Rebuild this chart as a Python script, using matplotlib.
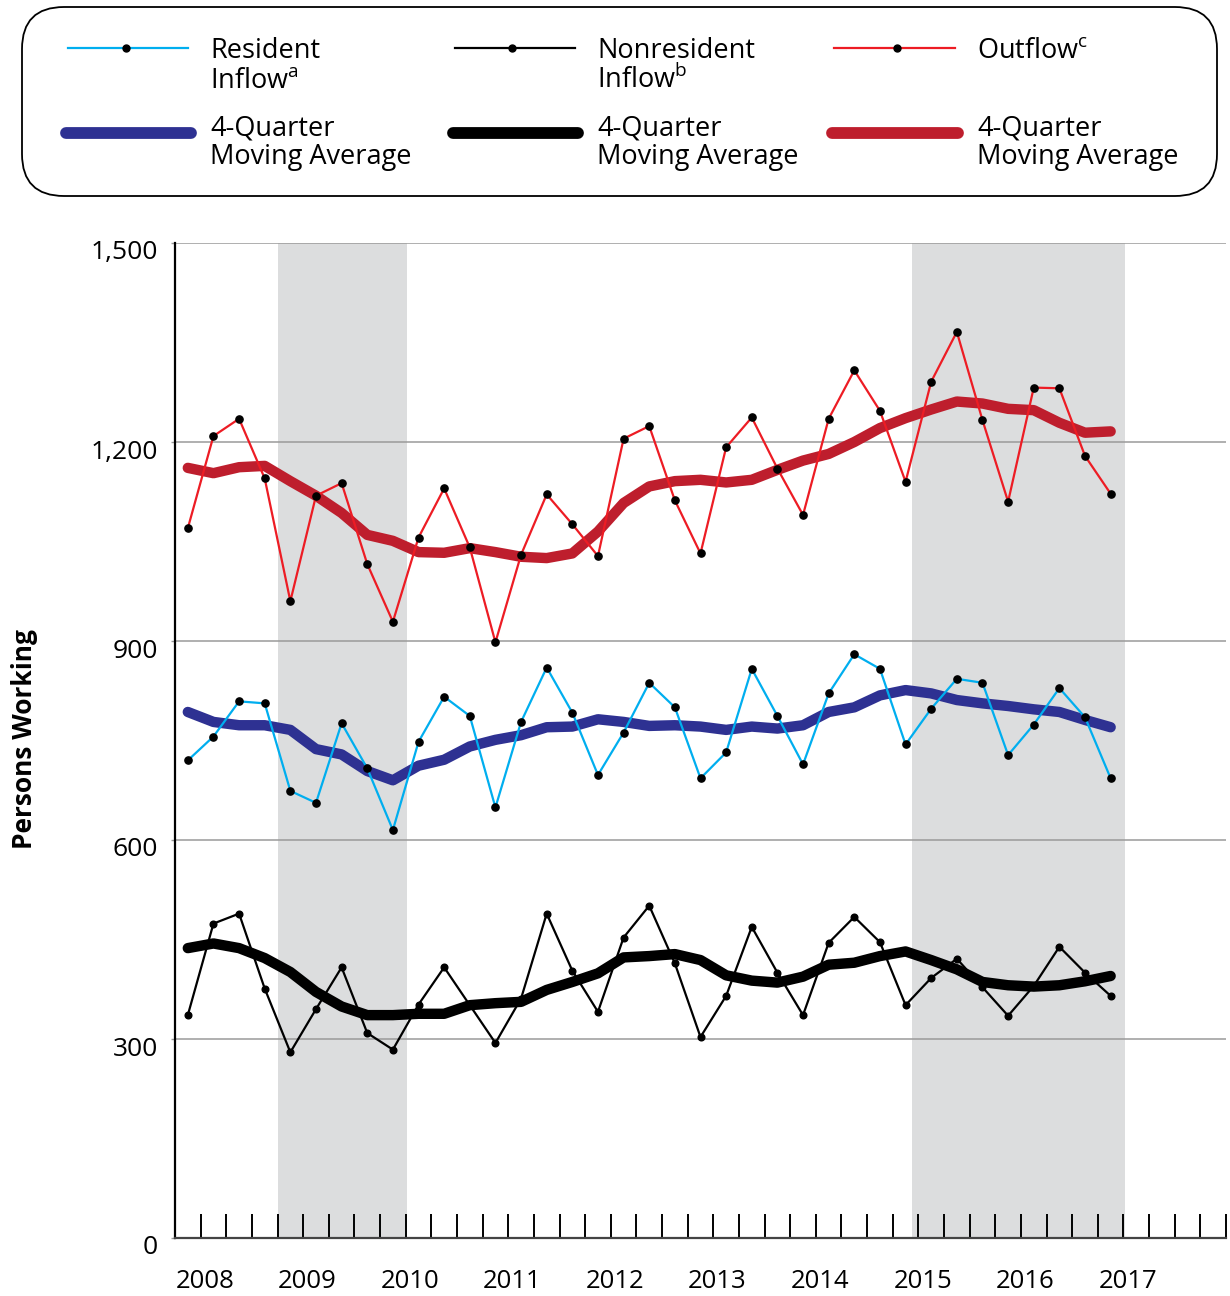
import matplotlib
matplotlib.use("Agg")
import matplotlib.pyplot as plt
import matplotlib.transforms as mtransforms
from matplotlib.patches import FancyBboxPatch

plt.rcParams['font.family'] = ['Open Sans', 'DejaVu Sans']

# ---------------- data ----------------
years = [2008, 2009, 2010, 2011, 2012, 2013, 2014, 2015, 2016, 2017]
n_quarters = 37  # 2008Q1 .. 2017Q1

resident = [720, 756, 809, 806, 674, 656, 776, 708, 615, 748,
            816, 787, 649, 778, 860, 792, 698, 762, 837, 800,
            693, 732, 858, 787, 714, 821, 880, 858, 744, 798,
            843, 837, 728, 774, 829, 785, 693]
resident_ma = [793, 778, 773, 773, 766, 737, 729, 704, 690, 712,
               721, 741, 751, 758, 770, 771, 782, 778, 772, 773,
               771, 766, 771, 768, 773, 793, 800, 818, 826, 821,
               811, 806, 802, 797, 793, 781, 770]
nonresident = [336, 474, 489, 376, 280, 345, 408, 309, 284, 352,
               408, 351, 294, 361, 489, 403, 341, 453, 501, 414,
               303, 365, 469, 400, 336, 445, 484, 446, 351, 392,
               421, 378, 335, 380, 439, 400, 365]
nonresident_ma = [437, 444, 437, 422, 401, 371, 349, 336, 336, 338,
                  338, 351, 354, 356, 374, 386, 399, 423, 425, 428,
                  419, 396, 388, 385, 394, 412, 415, 425, 432, 419,
                  405, 386, 381, 379, 381, 387, 395]
outflow = [1070, 1209, 1235, 1145, 960, 1119, 1138, 1016, 929, 1056,
           1130, 1041, 898, 1030, 1121, 1076, 1028, 1205, 1224, 1112,
           1032, 1192, 1237, 1160, 1090, 1235, 1308, 1247, 1140, 1291,
           1366, 1233, 1110, 1282, 1281, 1179, 1122]
outflow_ma = [1161, 1153, 1162, 1164, 1141, 1119, 1093, 1060, 1051, 1034,
              1033, 1040, 1034, 1027, 1025, 1032, 1065, 1108, 1133, 1141,
              1143, 1139, 1143, 1158, 1172, 1182, 1200, 1221, 1236, 1249,
              1261, 1258, 1250, 1248, 1229, 1214, 1216]

y_ticks = [0, 300, 600, 900, 1200, 1500]
y_tick_labels = ['0', '300', '600', '900', '1,200', '1,500']
shaded_spans = [(4.0, 9.05), (28.77, 37.05)]

# ---------------- style ----------------
C_CYAN = '#00AEEF'
C_NAVY = '#2E3192'
C_RED = '#ED1C24'
C_DRED = '#BE1E2D'
C_SHADE = '#DCDDDE'
C_GRID = '#9A9A9A'

W, H = 1230, 1296
fig = plt.figure(figsize=(W / 100, H / 100), dpi=100)

L, R, T, B = 175, 1226, 243, 1238
ax = fig.add_axes([L / W, 1 - B / H, (R - L) / W, (B - T) / H])
ax.set_xlim(0, 41)
ax.set_ylim(0, 1500)
ax.set_axisbelow(True)

for a, b in shaded_spans:
    ax.axvspan(a, b, color=C_SHADE, lw=0, zorder=0.1)

ax.set_yticks(y_ticks)
ax.set_yticklabels([])
ax.yaxis.grid(True, color=C_GRID, lw=1.1)
ax.tick_params(axis='y', length=3, color=C_GRID, width=1.0)

ylab_tr = mtransforms.offset_copy(ax.get_yaxis_transform(), fig=fig,
                                  x=-17, y=-10, units='dots')
for v, lab in zip(y_ticks, y_tick_labels):
    ax.text(0, v, lab, transform=ylab_tr, ha='right', va='center',
            fontsize=19)

ax.set_xticks(list(range(1, 42)))
ax.set_xticklabels([])
ax.tick_params(axis='x', direction='in', length=17, width=1.4,
               color='black')

for s in ['top', 'right']:
    ax.spines[s].set_visible(False)
ax.spines['left'].set_color('black')
ax.spines['left'].set_linewidth(1.6)
ax.spines['bottom'].set_color('#444444')
ax.spines['bottom'].set_linewidth(1.6)

xs = [i + 0.5 for i in range(n_quarters)]

thick = 7.5
thin = 1.6
ms = 5.2
ax.plot(xs, outflow_ma, color=C_DRED, lw=thick, solid_capstyle='round',
        solid_joinstyle='round', zorder=2)
ax.plot(xs, resident_ma, color=C_NAVY, lw=thick, solid_capstyle='round',
        solid_joinstyle='round', zorder=2)
ax.plot(xs, nonresident_ma, color='black', lw=thick, solid_capstyle='round',
        solid_joinstyle='round', zorder=2)

ax.plot(xs, outflow, color=C_RED, lw=thin, marker='o', ms=ms,
        mfc='black', mec='black', zorder=3)
ax.plot(xs, resident, color=C_CYAN, lw=thin, marker='o', ms=ms,
        mfc='black', mec='black', zorder=3)
ax.plot(xs, nonresident, color='black', lw=thin, marker='o', ms=ms - 0.4,
        mfc='black', mec='black', zorder=3)

trans = mtransforms.blended_transform_factory(ax.transData, ax.transAxes)
for k, yr in enumerate(years):
    ax.text(4 * k + 0.02, -44 / (B - T), str(yr), transform=trans,
            ha='left', va='center', fontsize=18.5)

fig.text(25 / W, 1 - 739 / H, 'Persons Working', rotation=90,
         fontweight='bold', fontsize=19, ha='center', va='center')

# ---------------- legend (drawn in pixel coordinates) ----------------
lax = fig.add_axes([0, 0, 1, 1])
lax.set_xlim(0, W)
lax.set_ylim(H, 0)
lax.axis('off')

lax.add_patch(FancyBboxPatch((22, 7), 1195, 189,
                             boxstyle='round,pad=0,rounding_size=42',
                             fc='white', ec='black', lw=1.3))

fs = 19.5
entries = [
    (68, 188, 126, C_CYAN, C_NAVY, 210, 'Resident', r'Inflow$^{\mathregular{a}}$'),
    (455, 575, 512, 'black', 'black', 597, 'Nonresident', r'Inflow$^{\mathregular{b}}$'),
    (834, 955, 897, C_RED, C_DRED, 977, r'Outflow$^{\mathregular{c}}$', None),
]
for x0, x1, xd, cthin, cthick, xt, t1, t2 in entries:
    lax.plot([x0, x1], [48, 48], color=cthin, lw=1.6)
    lax.plot([xd], [48], marker='o', ms=5, color='black')
    lax.plot([x0 - 2, x1 + 3], [133, 133], color=cthick, lw=8.5,
             solid_capstyle='round')
    lax.text(xt, 58, t1, fontsize=fs, va='baseline', ha='left')
    if t2:
        lax.text(xt, 88, t2, fontsize=fs, va='baseline', ha='left')
    lax.text(xt, 135, '4-Quarter', fontsize=fs, va='baseline', ha='left')
    lax.text(xt, 164, 'Moving Average', fontsize=fs, va='baseline', ha='left')

fig.savefig('out.png', dpi=100)
